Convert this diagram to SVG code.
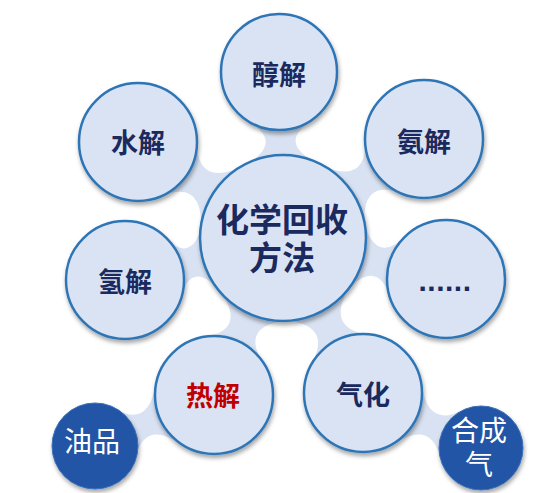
<svg xmlns="http://www.w3.org/2000/svg" width="550" height="493" viewBox="0 0 550 493">
<defs>
<filter id="sh" x="-20%" y="-20%" width="140%" height="150%">
<feDropShadow dx="1" dy="3" stdDeviation="2.2" flood-color="#000" flood-opacity="0.35"/>
</filter>
<style>
.link{fill:#d9e2f2;stroke:none}
.n{fill:#dae3f3;stroke:#2e75b6;stroke-width:2.5;filter:url(#sh)}
.d{fill:#2154a6;stroke:#3a6fb8;stroke-width:1;filter:url(#sh)}
.t{font-family:"Noto Sans CJK SC","Noto Sans",sans-serif;font-weight:bold;font-size:27px;fill:#1b2a5e;text-anchor:middle}
.big{font-size:33px}
.red{fill:#c00000}
.w{font-family:"Noto Sans CJK SC","Noto Sans",sans-serif;font-size:28px;fill:#ffffff;text-anchor:middle}
</style>
</defs>
<rect width="550" height="493" fill="#ffffff"/>
<g id="connectors">
<path class="link" d="M321.26,165.06 Q273.71,143.17 314.15,119.17 L246.17,120.81 Q287.71,142.83 241.28,166.98 Z"/>
<path class="link" d="M245.05,164.91 Q196.64,189.22 196.79,140.15 L159.25,196.85 Q204.36,177.54 200.89,231.61 Z"/>
<path class="link" d="M364.90,229.37 Q359.30,175.88 404.26,194.41 L365.18,138.75 Q367.34,187.34 318.94,163.89 Z"/>
<path class="link" d="M203.14,217.84 Q194.21,268.85 162.66,234.81 L180.12,300.53 Q190.61,255.33 223.70,295.16 Z"/>
<path class="link" d="M343.06,294.35 Q377.85,254.64 391.16,300.26 L407.74,234.32 Q374.43,268.22 362.58,216.77 Z"/>
<path class="link" d="M217.41,287.83 Q250.08,330.31 202.18,337.38 L264.44,364.74 Q237.26,324.67 290.65,320.01 Z"/>
<path class="link" d="M280.48,320.34 Q334.73,322.96 310.76,365.94 L371.20,334.74 Q322.29,329.38 351.58,283.64 Z"/>
<path class="link" d="M155.45,385.29 Q148.53,426.87 116.39,409.64 L136.09,455.58 Q145.77,420.43 180.65,444.09 Z"/>
<path class="link" d="M394.80,443.12 Q430.73,420.71 439.63,456.30 L460.75,410.98 Q427.77,427.05 421.84,385.12 Z"/>
</g>
<g id="center"><circle class="n" cx="283" cy="238" r="83"/><text class="t big"><tspan x="282" y="232">化学回收</tspan><tspan x="282" y="270">方法</tspan></text></g>
<g id="n-chunjie"><circle class="n" cx="279" cy="72" r="58"/><text class="t" x="279" y="85">醇解</text></g>
<g id="n-shuijie"><circle class="n" cx="138" cy="142" r="59"/><text class="t" x="138" y="153">水解</text></g>
<g id="n-anjie"><circle class="n" cx="424" cy="139" r="59"/><text class="t" x="424" y="152">氨解</text></g>
<g id="n-qingjie"><circle class="n" cx="125" cy="280" r="59"/><text class="t" x="125" y="292">氢解</text></g>
<g id="n-more"><circle class="n" cx="446" cy="279" r="59"/><text class="t" x="445" y="291" style="font-family:'Liberation Sans',sans-serif;font-size:30px;letter-spacing:0.5px">......</text></g>
<g id="n-rejie"><circle class="n" cx="214" cy="395" r="59"/><text class="t red" x="213" y="406">热解</text></g>
<g id="n-qihua"><circle class="n" cx="363" cy="393" r="59"/><text class="t" x="363" y="405">气化</text></g>
<g id="n-youpin"><circle class="d" cx="95" cy="446" r="43"/><text class="w" x="92" y="452">油品</text></g>
<g id="n-hechengqi"><circle class="d" cx="481" cy="448" r="42"/><text class="w"><tspan x="479" y="441">合成</tspan><tspan x="479" y="475">气</tspan></text></g>
</svg>
